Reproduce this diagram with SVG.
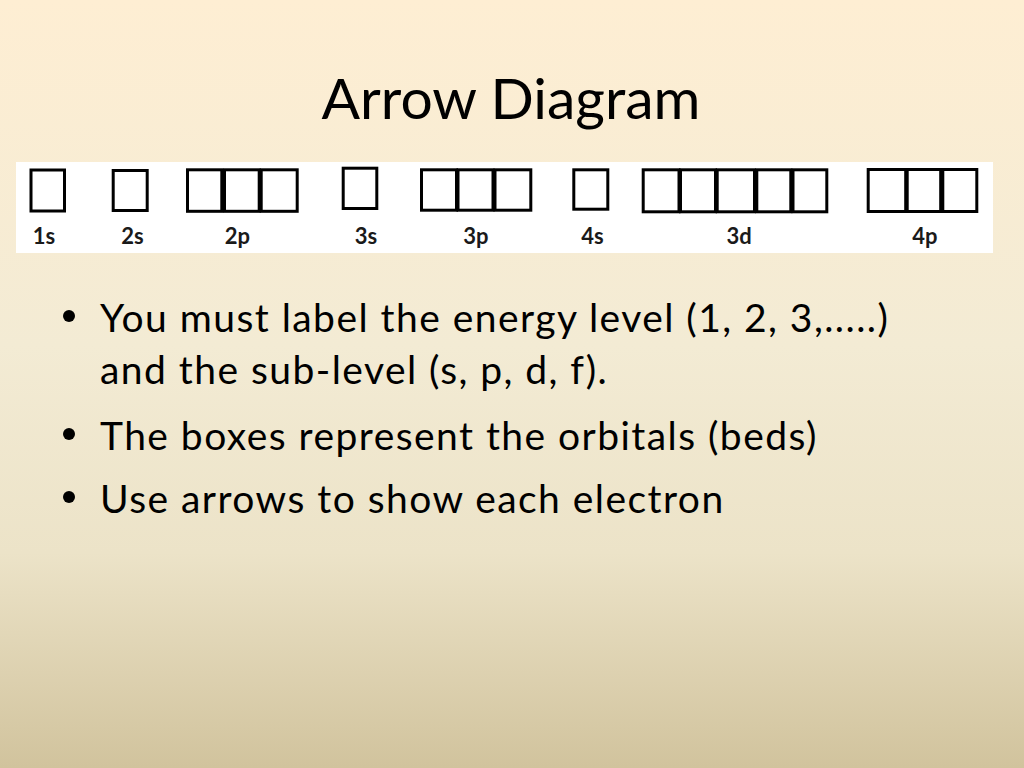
<svg xmlns="http://www.w3.org/2000/svg" width="1024" height="768" viewBox="0 0 1024 768">
<defs>
<linearGradient id="bg" x1="0" y1="0" x2="0" y2="1">
<stop offset="0" stop-color="#FEEED3"/>
<stop offset="0.45" stop-color="#F3EBD4"/>
<stop offset="0.72" stop-color="#ECE3C8"/>
<stop offset="1" stop-color="#D1C39D"/>
</linearGradient>
<style>
.box{fill:#FFFFFF;stroke:#000000;stroke-width:3}
.lbl{font-family:Lato,"Liberation Sans",sans-serif;font-weight:bold;font-size:22px;fill:#1a1a1a;text-anchor:middle}
.title{font-family:Lato,"Open Sans",sans-serif;font-size:57px;fill:#000;text-anchor:middle}
.bul{font-family:Lato,"Open Sans",sans-serif;font-size:39px;letter-spacing:1.45px;fill:#000}
</style>
</defs>
<rect x="0" y="0" width="1024" height="768" fill="url(#bg)"/>
<text id="title" class="title" x="511" y="119">Arrow Diagram</text>
<rect id="band" x="16" y="162" width="977" height="91" fill="#FFFFFF"/>
<g id="n1s">
<rect class="box" x="31" y="170" width="33.5" height="41"/>
<text class="lbl" x="44" y="244">1s</text>
</g>
<g id="n2s">
<rect class="box" x="113.2" y="170.5" width="34" height="40"/>
<text class="lbl" x="132.5" y="244">2s</text>
</g>
<g id="n2p">
<rect class="box" x="187.5" y="169.8" width="34.3" height="41.5"/>
<rect class="box" x="224.5" y="169.8" width="34.7" height="41.5"/>
<rect class="box" x="261.2" y="169.8" width="36" height="41.5"/>
<text class="lbl" x="237.5" y="244">2p</text>
</g>
<g id="n3s">
<rect class="box" x="343.2" y="168.2" width="33.6" height="40.3"/>
<text class="lbl" x="366" y="244">3s</text>
</g>
<g id="n3p">
<rect class="box" x="421.5" y="169.8" width="35" height="40.4"/>
<rect class="box" x="458" y="169.8" width="35" height="40.4"/>
<rect class="box" x="495" y="169.8" width="35.8" height="40.4"/>
<text class="lbl" x="476" y="244">3p</text>
</g>
<g id="n4s">
<rect class="box" x="573.8" y="169.8" width="34" height="39.4"/>
<text class="lbl" x="592.5" y="244">4s</text>
</g>
<g id="n3d">
<rect class="box" x="643.2" y="169.8" width="35.8" height="42"/>
<rect class="box" x="680.5" y="169.8" width="35" height="42"/>
<rect class="box" x="717.2" y="169.8" width="37.3" height="42"/>
<rect class="box" x="756.8" y="169.8" width="34" height="42"/>
<rect class="box" x="793" y="169.8" width="33.8" height="42"/>
<text class="lbl" x="739" y="244">3d</text>
</g>
<g id="n4p">
<rect class="box" x="868.2" y="169.5" width="37.5" height="42"/>
<rect class="box" x="907.2" y="169.5" width="33.5" height="42"/>
<rect class="box" x="942.8" y="169.5" width="34" height="42"/>
<text class="lbl" x="925" y="244">4p</text>
</g>
<g id="bullets">
<circle cx="69" cy="316" r="6" fill="#000"/>
<text class="bul" x="100" y="332">You must label the energy level (1, 2, 3,.....)</text>
<text class="bul" x="100" y="384">and the sub-level (s, p, d, f).</text>
<circle cx="69" cy="434" r="6" fill="#000"/>
<text class="bul" x="100" y="450">The boxes represent the orbitals (beds)</text>
<circle cx="69" cy="497" r="6" fill="#000"/>
<text class="bul" x="100" y="513">Use arrows to show each electron</text>
</g>
</svg>
